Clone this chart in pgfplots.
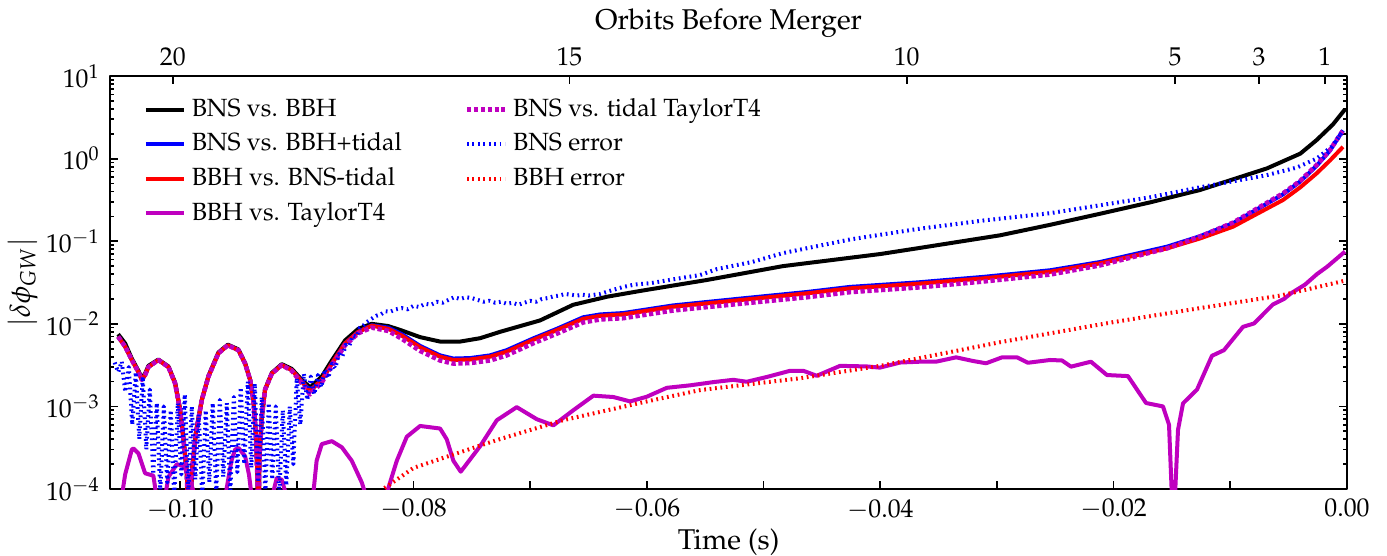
\documentclass[border=0pt]{standalone}
\usepackage[T1]{fontenc}
\usepackage{mathpazo}
\usepackage{pgfplots}
\pgfplotsset{compat=1.18}
\definecolor{mplm}{rgb}{0.75,0,0.75}
\begin{document}
\begin{tikzpicture}
\useasboundingbox (-38.5pt,-23.4pt) rectangle (446.5pt,171pt);
\begin{axis}[
  at={(0pt,0pt)}, anchor=south west, scale only axis,
  width=432.5pt, height=144.4pt,
  xmin=-0.106, xmax=0, ymode=log, ymin=1e-4, ymax=10,
  xtick={-0.1,-0.09,-0.08,-0.07,-0.06,-0.05,-0.04,-0.03,-0.02,-0.01,0},
  xticklabels={$-0.10$,,$-0.08$,,$-0.06$,,$-0.04$,,$-0.02$,,$0.00$},
  xtick pos=bottom,
  ytick={1e-4,1e-3,1e-2,1e-1,1,10},
  ytick pos=both, yticklabel pos=left,
  tick align=inside,
  major tick length=2.8pt, minor tick length=1.5pt,
  tick style={line width=0.6pt, black},
  axis line style={line width=0.6pt},
  ticklabel style={font=\small},
  xlabel={Time (s)}, ylabel={$|\delta\phi_{GW}|$},
  xlabel shift=-3.5pt, ylabel shift=-4pt,
  legend columns=2,
  legend cell align=left,
  legend style={draw=none, fill=none, at={(0.02,0.975)}, anchor=north west, font=\fontsize{8.7}{10}\selectfont, row sep=0.3pt,
    /tikz/every even column/.append style={column sep=20pt}},
  legend image code/.code={\draw[#1] (0pt,0pt) -- (13.3pt,0pt);},
  line join=round,
]
% BNS vs BBH
\addplot[black, line width=1.4pt, forget plot] coordinates {
(-0.10531,7.5e-3) (-0.10471,5.8e-3) (-0.10414,3.8e-3) (-0.10357,2.7e-3) (-0.10328,2.2e-3) (-0.10300,2.5e-3) (-0.10272,3.1e-3) (-0.10186,3.7e-3) (-0.10100,3.05e-3) (-0.10043,1.95e-3) (-0.10000,9.2e-4) (-0.09971,4.1e-4) (-0.09942,1.5e-4) (-0.09929,3e-5) (-0.09894,1.9e-4) (-0.09865,4.8e-4) (-0.09814,1.2e-3) (-0.09757,2.35e-3) (-0.09672,4.5e-3) (-0.09591,5.6e-3) (-0.09500,4.9e-3) (-0.09443,3.35e-3) (-0.09400,2.1e-3) (-0.09372,1.2e-3) (-0.09351,4.7e-4) (-0.09338,1.5e-4) (-0.09327,3e-5) (-0.09321,2.2e-4) (-0.09300,7.5e-4) (-0.09272,1.6e-3) (-0.09214,2.55e-3) (-0.09129,3.25e-3) (-0.09043,2.85e-3) (-0.08957,2.1e-3) (-0.08886,1.7e-3) (-0.08786,2.3e-3) (-0.08700,3.6e-3) (-0.08586,6.3e-3) (-0.08473,8.7e-3) (-0.08358,1.0e-2) (-0.08216,9.4e-3) (-0.08100,8.3e-3) (-0.07943,6.9e-3) (-0.07772,6.1e-3) (-0.07600,6.1e-3) (-0.07429,6.7e-3) (-0.07258,8.0e-3) (-0.06915,1.1e-2) (-0.06632,1.7e-2) (-0.06341,2.13e-2) (-0.06058,2.5e-2) (-0.05484,3.4e-2) (-0.04833,5.0e-2) (-0.04000,7.0e-2) (-0.03685,8.2e-2) (-0.02973,0.118) (-0.02545,0.158) (-0.02117,0.215) (-0.01690,0.295) (-0.01260,0.417) (-0.00686,0.762) (-0.00400,1.15) (-0.00260,1.68) (-0.00120,2.6) (-0.00017,3.95)
};
% BNS vs BBH+tidal
\addplot[blue, line width=1.4pt, forget plot] coordinates {
(-0.10531,7.0e-3) (-0.10471,5.3e-3) (-0.10414,3.65e-3) (-0.10357,2.6e-3) (-0.10328,2.1e-3) (-0.10300,2.4e-3) (-0.10272,3.0e-3) (-0.10186,3.65e-3) (-0.10100,3.0e-3) (-0.10043,1.9e-3) (-0.10000,9.0e-4) (-0.09971,4.0e-4) (-0.09942,1.5e-4) (-0.09929,3e-5) (-0.09894,1.9e-4) (-0.09865,4.7e-4) (-0.09814,1.2e-3) (-0.09757,2.3e-3) (-0.09672,4.4e-3) (-0.09591,5.5e-3) (-0.09500,4.8e-3) (-0.09443,3.3e-3) (-0.09400,2.1e-3) (-0.09372,1.2e-3) (-0.09351,4.7e-4) (-0.09338,1.5e-4) (-0.09327,3e-5) (-0.09321,2.2e-4) (-0.09300,7.4e-4) (-0.09272,1.6e-3) (-0.09214,2.5e-3) (-0.09129,3.17e-3) (-0.09043,2.76e-3) (-0.08957,2.0e-3) (-0.08886,1.55e-3) (-0.08786,2.1e-3) (-0.08700,3.3e-3) (-0.08586,5.8e-3) (-0.08473,8.0e-3) (-0.08358,9.6e-3) (-0.08216,9.0e-3) (-0.08100,7.5e-3) (-0.07943,5.4e-3) (-0.07772,4.15e-3) (-0.07658,3.8e-3) (-0.07515,3.85e-3) (-0.07344,4.15e-3) (-0.07201,4.8e-3) (-0.06975,6.65e-3) (-0.06772,8.7e-3) (-0.06546,1.2e-2) (-0.06400,1.3e-2) (-0.06204,1.35e-2) (-0.05776,1.67e-2) (-0.05201,2.02e-2) (-0.04627,2.43e-2) (-0.04259,2.8e-2) (-0.03685,3.17e-2) (-0.03119,3.7e-2) (-0.02545,4.45e-2) (-0.02117,5.6e-2) (-0.01542,8.6e-2) (-0.01260,0.115) (-0.00977,0.165) (-0.00548,0.37) (-0.00400,0.53) (-0.00260,0.82) (-0.00146,1.25) (-0.00034,2.2)
};
% BBH vs BNS-tidal
\addplot[red, line width=1.4pt, forget plot] coordinates {
(-0.10531,7.0e-3) (-0.10471,5.3e-3) (-0.10414,3.65e-3) (-0.10357,2.6e-3) (-0.10328,2.1e-3) (-0.10300,2.4e-3) (-0.10272,3.0e-3) (-0.10186,3.65e-3) (-0.10100,3.0e-3) (-0.10043,1.9e-3) (-0.10000,9.0e-4) (-0.09971,4.0e-4) (-0.09942,1.5e-4) (-0.09929,3e-5) (-0.09894,1.9e-4) (-0.09865,4.7e-4) (-0.09814,1.2e-3) (-0.09757,2.3e-3) (-0.09672,4.4e-3) (-0.09591,5.5e-3) (-0.09500,4.8e-3) (-0.09443,3.3e-3) (-0.09400,2.1e-3) (-0.09372,1.2e-3) (-0.09351,4.7e-4) (-0.09338,1.5e-4) (-0.09327,3e-5) (-0.09321,2.2e-4) (-0.09300,7.4e-4) (-0.09272,1.6e-3) (-0.09214,2.5e-3) (-0.09129,3.17e-3) (-0.09043,2.76e-3) (-0.08957,2.0e-3) (-0.08886,1.55e-3) (-0.08786,2.1e-3) (-0.08700,3.3e-3) (-0.08586,5.8e-3) (-0.08473,8.0e-3) (-0.08358,9.5e-3) (-0.08216,8.7e-3) (-0.08100,7.2e-3) (-0.07943,5.2e-3) (-0.07772,4.0e-3) (-0.07658,3.65e-3) (-0.07515,3.7e-3) (-0.07344,4.0e-3) (-0.07201,4.6e-3) (-0.06975,6.4e-3) (-0.06772,8.4e-3) (-0.06546,1.15e-2) (-0.06400,1.25e-2) (-0.06204,1.3e-2) (-0.05776,1.61e-2) (-0.05201,1.94e-2) (-0.04627,2.34e-2) (-0.04259,2.69e-2) (-0.03685,3.05e-2) (-0.03119,3.55e-2) (-0.02545,4.27e-2) (-0.02117,5.4e-2) (-0.01542,8.2e-2) (-0.01260,0.108) (-0.00977,0.150) (-0.00548,0.316) (-0.00400,0.45) (-0.00260,0.664) (-0.00146,0.95) (-0.00034,1.39)
};
% BBH vs TaylorT4
\addplot[mplm, line width=1.4pt, forget plot] coordinates {
(-0.10530,3e-5) (-0.10514,6e-5) (-0.10471,1.5e-4) (-0.10414,3.0e-4) (-0.10400,3.1e-4) (-0.10357,2.7e-4) (-0.10300,1.55e-4) (-0.10229,1.45e-4) (-0.10189,6e-5) (-0.10170,3e-5) (-0.10140,3e-5) (-0.10129,8e-5) (-0.10100,1.4e-4) (-0.10028,2.0e-4) (-0.09971,1.9e-4) (-0.09931,1.5e-4) (-0.09870,8e-5) (-0.09829,3e-5) (-0.09650,3e-5) (-0.09614,8e-5) (-0.09560,2.2e-4) (-0.09529,3.0e-4) (-0.09500,3.15e-4) (-0.09443,2.5e-4) (-0.09410,1.5e-4) (-0.09386,8e-5) (-0.09340,3e-5) (-0.09230,3e-5) (-0.09203,9e-5) (-0.09172,1.35e-4) (-0.09129,1.3e-4) (-0.09086,8e-5) (-0.09050,3e-5) (-0.08890,3e-5) (-0.08858,9e-5) (-0.08830,2.2e-4) (-0.08786,3.5e-4) (-0.08700,3.8e-4) (-0.08614,3.2e-4) (-0.08529,2.2e-4) (-0.08443,1.2e-4) (-0.08415,9e-5) (-0.08380,3e-5) (-0.08250,3e-5) (-0.08218,1.0e-4) (-0.08143,2.2e-4) (-0.08057,4.3e-4) (-0.07943,5.8e-4) (-0.07772,5.4e-4) (-0.07715,4.0e-4) (-0.07658,2.2e-4) (-0.07595,1.62e-4) (-0.07429,3.3e-4) (-0.07286,6.8e-4) (-0.07115,9.8e-4) (-0.06943,7.0e-4) (-0.06801,5.9e-4) (-0.06630,9.0e-4) (-0.06458,1.35e-3) (-0.06287,1.3e-3) (-0.06144,1.15e-3) (-0.06001,1.31e-3) (-0.05829,1.68e-3) (-0.05630,1.8e-3) (-0.05430,1.97e-3) (-0.05259,2.1e-3) (-0.05144,1.99e-3) (-0.04973,2.27e-3) (-0.04773,2.7e-3) (-0.04659,2.7e-3) (-0.04544,2.35e-3) (-0.04344,3.1e-3) (-0.04116,3.05e-3) (-0.04002,2.95e-3) (-0.03830,3.4e-3) (-0.03659,3.48e-3) (-0.03522,3.48e-3) (-0.03350,3.93e-3) (-0.03205,3.55e-3) (-0.03093,3.33e-3) (-0.02956,3.93e-3) (-0.02828,3.93e-3) (-0.02734,3.38e-3) (-0.02545,3.65e-3) (-0.02442,3.6e-3) (-0.02365,3.03e-3) (-0.02194,3.48e-3) (-0.02057,2.40e-3) (-0.01877,2.33e-3) (-0.01722,1.1e-3) (-0.01577,1.0e-3) (-0.01525,6e-4) (-0.01488,3e-5) (-0.01448,5.2e-4) (-0.01405,1.09e-3) (-0.01285,1.6e-3) (-0.01157,4.1e-3) (-0.01054,4.8e-3) (-0.00891,9.2e-3) (-0.00797,1.01e-2) (-0.00634,1.72e-2) (-0.00540,2.0e-2) (-0.00480,2.34e-2) (-0.00360,2.98e-2) (-0.00257,4.0e-2) (-0.00171,4.9e-2) (-0.00017,7.5e-2)
};
% BNS vs tidal TaylorT4
\addplot[mplm, line width=1.6pt, dash pattern=on 1.5pt off 0.9pt, forget plot] coordinates {
(-0.10531,7.0e-3) (-0.10471,5.3e-3) (-0.10414,3.65e-3) (-0.10357,2.6e-3) (-0.10328,2.1e-3) (-0.10300,2.4e-3) (-0.10272,3.0e-3) (-0.10186,3.65e-3) (-0.10100,3.0e-3) (-0.10043,1.9e-3) (-0.10000,9.0e-4) (-0.09971,4.0e-4) (-0.09942,1.5e-4) (-0.09929,3e-5) (-0.09894,1.9e-4) (-0.09865,4.7e-4) (-0.09814,1.2e-3) (-0.09757,2.3e-3) (-0.09672,4.4e-3) (-0.09591,5.5e-3) (-0.09500,4.8e-3) (-0.09443,3.3e-3) (-0.09400,2.1e-3) (-0.09372,1.2e-3) (-0.09351,4.7e-4) (-0.09338,1.5e-4) (-0.09327,3e-5) (-0.09321,2.2e-4) (-0.09300,7.4e-4) (-0.09272,1.6e-3) (-0.09214,2.5e-3) (-0.09129,3.17e-3) (-0.09043,2.7e-3) (-0.08957,1.9e-3) (-0.08886,1.4e-3) (-0.08786,1.95e-3) (-0.08700,3.1e-3) (-0.08586,5.5e-3) (-0.08473,7.7e-3) (-0.08358,9.0e-3) (-0.08216,8.2e-3) (-0.08100,6.6e-3) (-0.07943,4.7e-3) (-0.07772,3.6e-3) (-0.07658,3.3e-3) (-0.07515,3.35e-3) (-0.07344,3.6e-3) (-0.07201,4.15e-3) (-0.06975,5.8e-3) (-0.06772,7.6e-3) (-0.06546,1.04e-2) (-0.06400,1.13e-2) (-0.06204,1.17e-2) (-0.05776,1.45e-2) (-0.05201,1.75e-2) (-0.04627,2.1e-2) (-0.04259,2.42e-2) (-0.03685,2.75e-2) (-0.03119,3.25e-2) (-0.02545,3.95e-2) (-0.02117,5.1e-2) (-0.01542,8.2e-2) (-0.01260,0.114) (-0.00977,0.168) (-0.00548,0.38) (-0.00400,0.54) (-0.00260,0.84) (-0.00146,1.27) (-0.00034,2.2)
};
% BNS error
\addplot[blue, line width=1.4pt, dash pattern=on 0.6pt off 1.3pt, forget plot] coordinates {
(-0.1056,3.4e-3) (-0.1053,2.6e-3) (-0.1050,3.5e-3) (-0.1047,1.5e-3) (-0.1044,3.0e-3) (-0.1041,6e-4) (-0.1038,2.6e-3) (-0.1035,4e-4) (-0.1032,2.3e-3) (-0.1029,3e-4) (-0.1026,1.6e-3) (-0.1023,1.5e-4) (-0.1020,1.1e-3) (-0.1017,9e-5) (-0.1014,1.0e-3) (-0.1011,1.2e-4) (-0.1008,9e-4) (-0.1005,8e-5) (-0.1002,1.1e-3) (-0.0999,1.5e-4) (-0.0996,1.4e-3) (-0.0993,9e-5) (-0.0990,1.0e-3) (-0.0987,1.3e-4) (-0.0984,8e-4) (-0.0981,8e-5) (-0.0978,9e-4) (-0.0975,1.2e-4) (-0.0972,1.1e-3) (-0.0969,9e-5) (-0.0966,1.2e-3) (-0.0963,1.4e-4) (-0.0960,1.1e-3) (-0.0957,9e-5) (-0.0954,1.3e-3) (-0.0951,1.6e-4) (-0.0948,1.7e-3) (-0.0945,2e-4) (-0.0942,2.0e-3) (-0.0939,1.8e-4) (-0.0936,1.9e-3) (-0.0933,1.2e-4) (-0.0930,1.3e-3) (-0.0927,9e-5) (-0.0924,1.1e-3) (-0.0921,1.3e-4) (-0.0918,1.0e-3) (-0.0915,8e-5) (-0.0912,9e-4) (-0.0909,1.1e-4) (-0.0906,1.0e-3) (-0.0903,2e-4) (-0.0900,2.2e-3) (-0.0897,6e-4) (-0.0894,2.5e-3) (-0.0891,1.2e-3) (-0.0888,2.3e-3) (-0.0885,1.4e-3) (-0.0882,2.4e-3) (-0.0879,1.7e-3) (-0.0876,2.8e-3) (-0.0873,2.2e-3) (-0.0870,3.3e-3) (-0.0867,2.9e-3) (-0.0864,4.3e-3) (-0.0861,4.0e-3) (-0.0858,5.6e-3) (-0.0855,5.4e-3) (-0.0852,7.2e-3) (-0.0849,7.0e-3) (-0.0846,9.0e-3) (-0.0843,9.5e-3) (-0.0840,1.05e-2) (-0.0836,1.15e-2) (-0.0832,1.25e-2) (-0.0828,1.3e-2) (-0.0824,1.42e-2) (-0.0820,1.4e-2) (-0.0815,1.5e-2) (-0.0810,1.55e-2) (-0.0805,1.5e-2) (-0.0800,1.65e-2) (-0.0795,1.6e-2) (-0.0790,1.75e-2) (-0.0785,1.7e-2) (-0.0780,1.85e-2) (-0.0775,1.8e-2) (-0.0770,1.95e-2) (-0.0765,2.1e-2) (-0.0760,2.0e-2) (-0.0755,2.1e-2) (-0.0750,2.05e-2) (-0.0745,1.95e-2) (-0.0740,1.85e-2) (-0.0735,1.9e-2) (-0.0730,1.8e-2) (-0.0725,1.85e-2) (-0.0720,1.75e-2) (-0.0715,1.8e-2) (-0.0710,1.7e-2) (-0.0705,1.8e-2) (-0.0700,1.9e-2) (-0.0695,1.85e-2) (-0.0690,2.0e-2) (-0.0685,2.05e-2) (-0.0680,2.15e-2) (-0.0675,2.2e-2) (-0.0670,2.3e-2) (-0.0665,2.25e-2) (-0.0660,2.2e-2) (-0.0655,2.25e-2) (-0.0650,2.2e-2) (-0.0640,2.3e-2) (-0.0630,2.55e-2) (-0.0620,2.8e-2) (-0.0610,3.0e-2) (-0.05973,3.1e-2) (-0.0570,3.6e-2) (-0.05544,3.9e-2) (-0.0540,4.6e-2) (-0.0510,5.6e-2) (-0.0483,7.2e-2) (-0.0426,0.105) (-0.0369,0.140) (-0.0312,0.178) (-0.0255,0.218) (-0.0212,0.272) (-0.0169,0.34) (-0.0126,0.45) (-0.0069,0.63) (-0.0043,0.78) (-0.0026,1.0) (-0.0013,1.4) (-0.0003,2.2)
};
% BBH error
\addplot[red, line width=1.4pt, dash pattern=on 0.6pt off 1.3pt, forget plot] coordinates {
(-0.0830,8e-5) (-0.0826,1.0e-4) (-0.0800,1.8e-4) (-0.0763,2.7e-4) (-0.0729,3.9e-4) (-0.0672,6.8e-4) (-0.0600,1.15e-3) (-0.0554,1.58e-3) (-0.0469,2.19e-3) (-0.0400,3.1e-3) (-0.0297,6.0e-3) (-0.0200,1.05e-2) (-0.0126,1.55e-2) (-0.0057,2.2e-2) (-0.0003,3.3e-2)
};
\addlegendimage{black, line width=1.4pt}
\addlegendentry{BNS vs. BBH}
\addlegendimage{mplm, line width=1.6pt, dash pattern=on 1.5pt off 0.9pt}
\addlegendentry{BNS vs. tidal TaylorT4}
\addlegendimage{blue, line width=1.4pt}
\addlegendentry{BNS vs. BBH+tidal}
\addlegendimage{blue, line width=1.4pt, dash pattern=on 0.6pt off 1.3pt}
\addlegendentry{BNS error}
\addlegendimage{red, line width=1.4pt}
\addlegendentry{BBH vs. BNS-tidal}
\addlegendimage{red, line width=1.4pt, dash pattern=on 0.6pt off 1.3pt}
\addlegendentry{BBH error}
\addlegendimage{mplm, line width=1.4pt}
\addlegendentry{BBH vs. TaylorT4}
\end{axis}
\begin{axis}[
  at={(0pt,0pt)}, anchor=south west, scale only axis,
  width=432.5pt, height=144.4pt,
  xmin=-0.106, xmax=0, ymin=0, ymax=1,
  axis x line*=top, axis y line=none,
  xtick={-0.10063,-0.06664,-0.03773,-0.01474,-0.00754,-0.00189},
  xticklabels={20,15,10,5,3,1},
  tick align=inside, major tick length=2.8pt,
  tick style={line width=0.6pt, black},
  axis line style={line width=0.6pt},
  ticklabel style={font=\small},
  xlabel={Orbits Before Merger}, xlabel shift=-3.5pt,
]
\addplot[draw=none, forget plot] coordinates {(-0.05,0.5)};
\end{axis}
\end{tikzpicture}
\end{document}
